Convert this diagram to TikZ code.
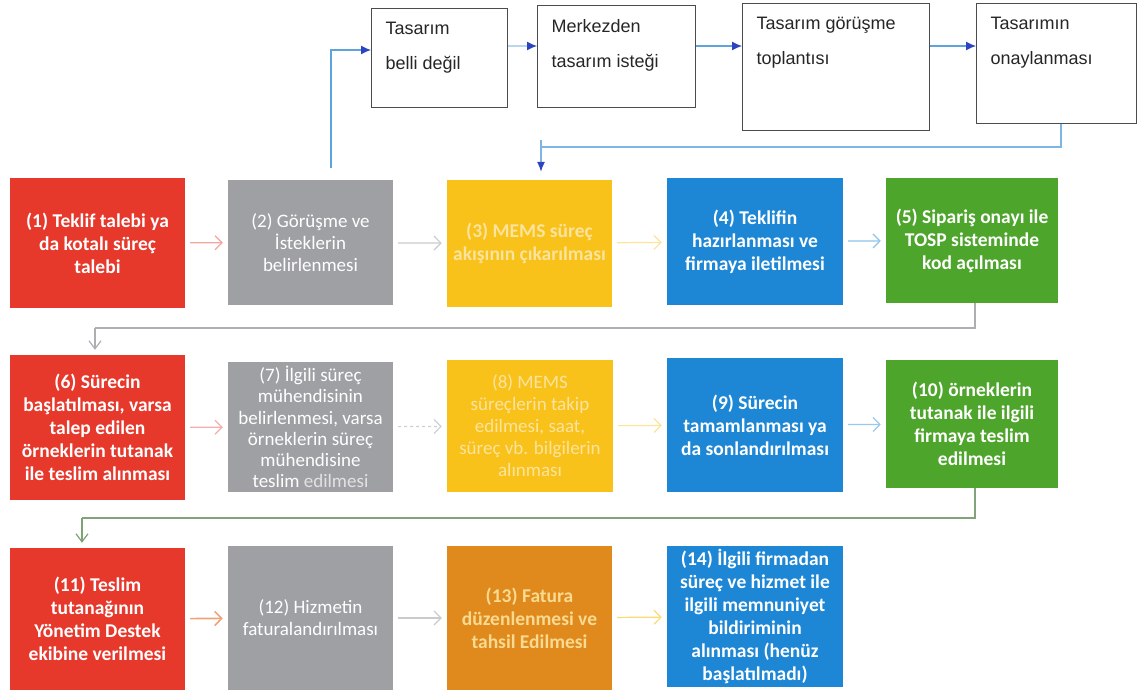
\documentclass[tikz,border=0pt]{standalone}
\usepackage{fontspec}
\setmainfont{Carlito}
\newfontfamily\arialfont{Liberation Sans}
\usetikzlibrary{arrows.meta, calc, positioning}
\definecolor{rot}{HTML}{E7382C}
\definecolor{grau}{HTML}{9EA0A3}
\definecolor{gelb}{HTML}{F8C21B}
\definecolor{blau}{HTML}{1D87D6}
\definecolor{gruen}{HTML}{4EA52C}
\definecolor{ocker}{HTML}{E08A1D}
\definecolor{blassgelb}{HTML}{FCE39E}
\definecolor{linie}{HTML}{5FA3DD}
\definecolor{kopf}{HTML}{2B45C0}

\begin{document}
\begin{tikzpicture}[x=1pt, y=-1pt,
    schritt/.style={fill=#1, draw=none, align=center, inner sep=2pt, text=white,
      font=\fontsize{19.5}{23}\selectfont\bfseries},
    duenn/.style={font=\fontsize{19}{22}\selectfont},
    blass/.style={text=blassgelb},
    weiter/.style={draw=#1, line width=1.2pt, shorten <=5pt, shorten >=5pt,
      -{Straight Barb[length=7pt,width=14pt]}},
    umbruch/.style={draw=#1, line width=1.2pt, shorten >=5pt,
      -{Straight Barb[length=8pt,width=12pt]}},
    entwurf/.style={draw=black!70, line width=1pt, fill=white, anchor=north west},
    entwurftext/.style={anchor=north west, align=left, xshift=11pt, yshift=-11pt,
      text=black!85, font=\arialfont\fontsize{18}{35}\selectfont},
    blaupfeil/.style={draw=linie, line width=1.2pt,
      -{Latex[length=10pt,width=9pt,color=kopf]}}]
  \useasboundingbox (0,0) rectangle (1140,694);

  % --- Entwurfszweig oben ---
  \node[entwurf, minimum width=136pt, minimum height=99pt,
    label={[entwurftext]north west:Tasarım\\belli değil}] (e1) at (371,8) {};
  \node[entwurf, minimum width=158pt, minimum height=102pt,
    label={[entwurftext]north west:Merkezden\\tasarım isteği}] (e2) at (537,5) {};
  \node[entwurf, minimum width=187pt, minimum height=127pt,
    label={[entwurftext]north west:Tasarım görüşme\\toplantısı}] (e3) at (742,3) {};
  \node[entwurf, minimum width=160pt, minimum height=120pt,
    label={[entwurftext]north west:Tasarımın\\onaylanması}] (e4) at (976,3) {};

  % --- Zeile 1 ---
  \node[schritt=rot, minimum width=175pt, minimum height=130pt] (s1) at (97.5,243)
    {(1) Teklif talebi ya\\da kotalı süreç\\talebi};
  \node[schritt=grau, duenn, minimum width=165pt, minimum height=125pt] (s2) at (310.5,242.5)
    {(2) Görüşme ve\\İsteklerin\\belirlenmesi};
  \node[schritt=gelb, blass, minimum width=165pt, minimum height=127pt] (s3) at (529.5,243.5)
    {(3) MEMS süreç\\akışının çıkarılması};
  \node[schritt=blau, minimum width=176pt, minimum height=127pt] (s4) at (755,241.5)
    {(4) Teklifin\\hazırlanması ve\\firmaya iletilmesi};
  \node[schritt=gruen, minimum width=172pt, minimum height=125pt] (s5) at (972,240.5)
    {(5) Sipariş onayı ile\\TOSP sisteminde\\kod açılması};

  % --- Zeile 2 ---
  \node[schritt=rot, minimum width=175pt, minimum height=145pt] (s6) at (97.5,427.5)
    {(6) Sürecin\\başlatılması, varsa\\talep edilen\\örneklerin tutanak\\ile teslim alınması};
  \node[schritt=grau, duenn, font=\fontsize{19}{21.3}\selectfont, minimum width=165pt,
    minimum height=130pt] (s7) at (310.5,427)
    {(7) İlgili süreç\\mühendisinin\\belirlenmesi, varsa\\örneklerin süreç\\mühendisine\\teslim {\color{white!70!grau}edilmesi}};
  \node[schritt=gelb, blass, duenn, minimum width=166pt, minimum height=132pt] (s8) at (530,426)
    {(8) MEMS\\süreçlerin takip\\edilmesi, saat,\\süreç vb. bilgilerin\\alınması};
  \node[schritt=blau, minimum width=176pt, minimum height=134pt] (s9) at (755,425)
    {(9) Sürecin\\tamamlanması ya\\da sonlandırılması};
  \node[schritt=gruen, minimum width=172pt, minimum height=128pt] (s10) at (972,424)
    {(10) örneklerin\\tutanak ile ilgili\\firmaya teslim\\edilmesi};

  % --- Zeile 3 ---
  \node[schritt=rot, minimum width=175pt, minimum height=142pt] (s11) at (97.5,619)
    {(11) Teslim\\tutanağının\\Yönetim Destek\\ekibine verilmesi};
  \node[schritt=grau, duenn, minimum width=165pt, minimum height=144pt] (s12) at (310.5,618)
    {(12) Hizmetin\\faturalandırılması};
  \node[schritt=ocker, text=blassgelb!90!ocker, minimum width=165pt, minimum height=144pt] (s13) at (529.5,618)
    {(13) Fatura\\düzenlenmesi ve\\tahsil Edilmesi};
  \node[schritt=blau, minimum width=176pt, minimum height=141pt] (s14) at (755,616.5)
    {(14) İlgili firmadan\\süreç ve hizmet ile\\ilgili memnuniyet\\bildiriminin\\alınması (henüz\\başlatılmadı)};

  % Pfeile oben
  \coordinate (hoehe) at (0,46);
  \coordinate (abzweig) at (331,168);
  \coordinate (knick) at (541,147);
  \draw[blaupfeil] (abzweig) |- (e1.west |- 0,50);
  \draw[draw=linie!45, line width=1.2pt, -{Latex[length=10pt,width=9pt,color=kopf]}]
    (e1.east |- hoehe) -- (e2.west |- hoehe);
  \draw[blaupfeil] (e2.east |- hoehe) -- (e3.west |- hoehe);
  \draw[blaupfeil] (e3.east |- hoehe) -- (e4.west |- hoehe);
  \draw[draw=linie!80, line width=1.2pt] (e4.south -| 1061,0) |- (knick);
  \draw[draw=linie!80, line width=1.2pt, shorten >=8pt,
    -{Latex[length=10pt,width=8pt,color=kopf]}] (541,140) -- (s3.north -| knick);

  % Pfeile in den Zeilen
  \draw[weiter=rot!45] (s1) -- (s2);
  \draw[weiter=grau!55] (s2) -- (s3);
  \draw[weiter=gelb!45] (s3) -- (s4);
  \draw[weiter=blau!50] (s4) -- (s5);
  \draw[weiter=rot!40] (s6) -- (s7);
  \draw[weiter=grau!50, dashed] (s7) -- (s8);
  \draw[weiter=gelb!45] (s8) -- (s9);
  \draw[weiter=blau!45] (s9) -- (s10);
  \draw[weiter=ocker!55!rot!60, line width=1.6pt] (s11) -- (s12);
  \draw[weiter=grau!55] (s12) -- (s13);
  \draw[weiter=gelb!60] (s13) -- (s14);

  % Zeilenwechsel
  \coordinate (z1) at (95,328);
  \coordinate (z2) at (82,518);
  \draw[draw=grau!85, line width=1.2pt] (s5.south -| 975,0) |- (z1);
  \draw[umbruch=grau!85] (z1) -- (s6.north -| z1);
  \draw[draw=gruen!35!grau, line width=1.2pt] (s10.south -| 975,0) |- (z2);
  \draw[umbruch=gruen!40!grau] (z2) -- (s11.north -| z2);
\end{tikzpicture}
\end{document}
